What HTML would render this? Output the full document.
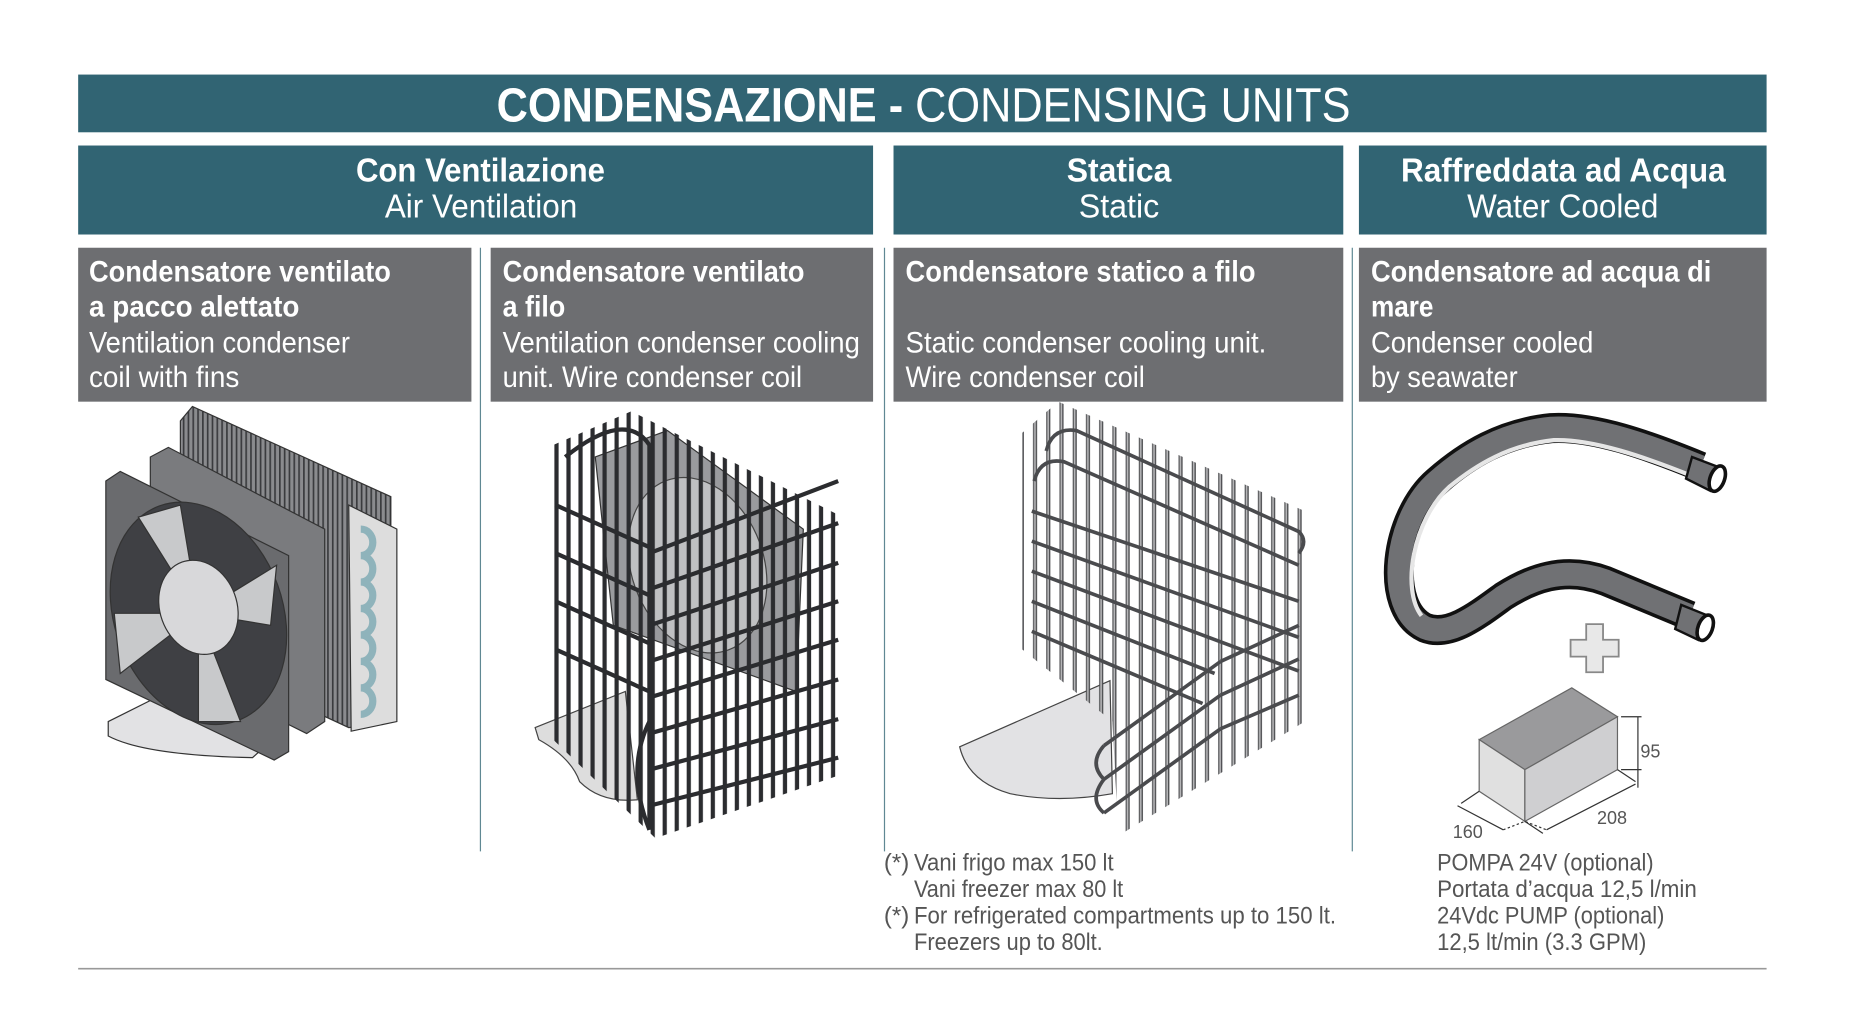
<!DOCTYPE html>
<html><head><meta charset="utf-8"><style>
html,body{margin:0;padding:0;background:#fff;width:1864px;height:1018px;overflow:hidden}
svg{display:block}
.t{font-family:"Liberation Sans Narrow","Liberation Sans",sans-serif;fill:#fff}
.b{font-weight:bold}
.g{font-family:"Liberation Sans Narrow","Liberation Sans",sans-serif;fill:#555}
</style></head><body>
<svg width="1864" height="1018" viewBox="0 0 1550 846.5" xmlns="http://www.w3.org/2000/svg">
<defs>
<pattern id="fins" width="4" height="10" patternUnits="userSpaceOnUse"><rect width="4" height="10" fill="#8a8b8e"/><rect width="1.4" height="10" fill="#3a3b3e"/></pattern>
<pattern id="wire" width="10" height="10" patternUnits="userSpaceOnUse"><rect width="10" height="10" fill="none"/><rect x="1" width="3.5" height="10" fill="#2b2c2f"/></pattern>
<pattern id="wire2" width="11" height="10" patternUnits="userSpaceOnUse"><rect x="1" width="3.4" height="10" fill="#4a4b4e"/><rect x="1.9" width="1.4" height="10" fill="#b5b5b7"/></pattern>
</defs>
<!-- headers -->
<rect x="65" y="62" width="1404" height="48" fill="#316473"/>
<text x="413" y="101" class="t" font-size="40" textLength="710" lengthAdjust="spacingAndGlyphs"><tspan class="b">CONDENSAZIONE - </tspan>CONDENSING UNITS</text>
<rect x="65" y="121" width="661" height="74" fill="#316473"/>
<rect x="743" y="121" width="374" height="74" fill="#316473"/>
<rect x="1130" y="121" width="339" height="74" fill="#316473"/>
<text x="296" y="151" class="t b" font-size="28" textLength="207" lengthAdjust="spacingAndGlyphs">Con Ventilazione</text>
<text x="320" y="181" class="t" font-size="28" textLength="160" lengthAdjust="spacingAndGlyphs">Air Ventilation</text>
<text x="887" y="151" class="t b" font-size="28" textLength="87" lengthAdjust="spacingAndGlyphs">Statica</text>
<text x="897" y="181" class="t" font-size="28" textLength="67" lengthAdjust="spacingAndGlyphs">Static</text>
<text x="1165" y="151" class="t b" font-size="28" textLength="270" lengthAdjust="spacingAndGlyphs">Raffreddata ad Acqua</text>
<text x="1220" y="181" class="t" font-size="28" textLength="159" lengthAdjust="spacingAndGlyphs">Water Cooled</text>
<!-- gray boxes -->
<rect x="65" y="206" width="327" height="128" fill="#6d6e71"/>
<rect x="408" y="206" width="318" height="128" fill="#6d6e71"/>
<rect x="743" y="206" width="374" height="128" fill="#6d6e71"/>
<rect x="1130" y="206" width="339" height="128" fill="#6d6e71"/>
<g class="t" font-size="25">
<text x="74" y="234" class="b" textLength="251" lengthAdjust="spacingAndGlyphs">Condensatore ventilato</text>
<text x="74" y="263" class="b" textLength="175" lengthAdjust="spacingAndGlyphs">a pacco alettato</text>
<text x="74" y="293" textLength="217" lengthAdjust="spacingAndGlyphs">Ventilation condenser</text>
<text x="74" y="322" textLength="125" lengthAdjust="spacingAndGlyphs">coil with fins</text>
<text x="418" y="234" class="b" textLength="251" lengthAdjust="spacingAndGlyphs">Condensatore ventilato</text>
<text x="418" y="263" class="b" textLength="52" lengthAdjust="spacingAndGlyphs">a filo</text>
<text x="418" y="293" textLength="297" lengthAdjust="spacingAndGlyphs">Ventilation condenser cooling</text>
<text x="418" y="322" textLength="249" lengthAdjust="spacingAndGlyphs">unit. Wire condenser coil</text>
<text x="753" y="234" class="b" textLength="291" lengthAdjust="spacingAndGlyphs">Condensatore statico a filo</text>
<text x="753" y="293" textLength="300" lengthAdjust="spacingAndGlyphs">Static condenser cooling unit.</text>
<text x="753" y="322" textLength="199" lengthAdjust="spacingAndGlyphs">Wire condenser coil</text>
<text x="1140" y="234" class="b" textLength="283" lengthAdjust="spacingAndGlyphs">Condensatore ad acqua di</text>
<text x="1140" y="263" class="b" textLength="52" lengthAdjust="spacingAndGlyphs">mare</text>
<text x="1140" y="293" textLength="185" lengthAdjust="spacingAndGlyphs">Condenser cooled</text>
<text x="1140" y="322" textLength="122" lengthAdjust="spacingAndGlyphs">by seawater</text>
</g>
<!-- dividers -->
<g stroke="#5f8893" stroke-width="1">
<line x1="399.5" y1="206" x2="399.5" y2="708"/>
<line x1="735.5" y1="206" x2="735.5" y2="708"/>
<line x1="1124.5" y1="206" x2="1124.5" y2="708"/>
</g>
<line x1="65" y1="805.5" x2="1469" y2="805.5" stroke="#999" stroke-width="1.3"/>
<!-- fan unit -->
<g stroke="#333" stroke-width="1">
<polygon points="150,350 160,338 325,413 325,600 290,605 150,540" fill="url(#fins)"/>
<polygon points="290,420 330,440 330,600 292,608" fill="#ddd"/>
<g fill="none" stroke="#8fb3bb" stroke-width="6">
<path d="M300,440 a10,11 0 0 1 0,22 a10,11 0 0 1 0,22 a10,11 0 0 1 0,22 a10,11 0 0 1 0,22 a10,11 0 0 1 0,22 a10,11 0 0 1 0,22 a10,11 0 0 1 0,22"/>
</g>
<path d="M90,600 L130,580 L230,612 L210,630 Q120,628 90,612 Z" fill="#e2e2e4"/>
<polygon points="125,380 140,372 270,440 270,600 255,610 125,545" fill="#7a7b7e"/>
<polygon points="88,400 100,392 240,462 240,625 228,632 88,565" fill="#6a6b6e"/>
<ellipse cx="165" cy="510" rx="70" ry="95" fill="#3f4044" transform="rotate(-20 165 510)"/>
<path d="M165,510 L115,430 L150,420 Z M165,510 L230,470 L225,520 Z M165,510 L200,600 L165,600 Z M165,510 L100,560 L95,510 Z" fill="#c8c9cb"/>
<ellipse cx="165" cy="505" rx="32" ry="40" fill="#d8d8da" transform="rotate(-20 165 505)"/>
</g>
<!-- wire cage ventilated -->
<path d="M445,605 L520,575 L530,665 Q500,668 482,650 Q475,630 448,615 Z" fill="#ddd" stroke="#444"/>
<polygon points="495,380 555,358 668,440 662,575 510,520" fill="#9a9b9e" stroke="#333"/>
<ellipse cx="580" cy="470" rx="55" ry="75" fill="#bfc0c2" stroke="#444" transform="rotate(-20 580 470)"/>
<polygon points="460,370 525,342 697,428 697,645 545,697 460,615" fill="url(#wire)"/>
<g fill="none" stroke="#2b2c2f" stroke-width="3.5">
<path d="M470,380 Q520,340 540,370 L540,690"/>
<path d="M540,460 L697,400 M540,490 L697,435 M540,520 L697,468 M540,550 L697,500 M540,580 L697,532 M540,610 L697,565 M540,640 L697,598 M540,670 L697,630"/>
<path d="M462,420 L540,455 M462,460 L540,495 M462,500 L540,535 M462,540 L540,575"/>
<path d="M540,600 Q520,640 540,690"/>
</g>
<!-- static cage -->
<path d="M798,621 L923,566 L925,660 Q880,668 840,660 Q805,650 798,621 Z" fill="#e2e2e4" stroke="#444"/>
<polygon points="850,360 880,334 1085,425 1085,600 930,695 925,600 850,540" fill="url(#wire2)"/>
<g fill="none" stroke="#4a4b4e" stroke-width="3">
<path d="M870,375 Q875,355 895,358 L1080,442 Q1088,450 1080,460"/>
<path d="M860,400 Q865,380 885,384 L1080,470"/>
<path d="M858,425 L1080,500 M858,450 L1080,530 M858,475 L1080,558"/>
<path d="M858,500 L1010,560 M858,525 L1000,585"/>
<path d="M918,620 L1015,550 M918,648 L1015,578 M918,676 L1015,606"/>
<path d="M1015,550 L1080,520 M1015,578 L1080,548 M1015,606 L1080,578"/>
<path d="M918,620 Q905,635 918,648 M918,676 Q905,665 918,648"/>
</g>
<!-- pipe -->
<g fill="none" stroke-linecap="butt">
<path d="M1414,388 C1370,370 1325,354 1290,356 C1250,360 1220,378 1195,400 C1160,430 1150,505 1185,522 C1205,530 1228,512 1250,496 C1272,482 1300,470 1335,483 L1405,512" stroke="#111" stroke-width="25"/>
<path d="M1414,388 C1370,370 1325,354 1290,356 C1250,360 1220,378 1195,400 C1160,430 1150,505 1185,522 C1205,530 1228,512 1250,496 C1272,482 1300,470 1335,483 L1405,512" stroke="#707174" stroke-width="19"/>
<path d="M1410,397 C1368,380 1325,365 1292,366 C1255,370 1228,386 1205,405 C1175,432 1165,490 1182,512" stroke="#e6e6e6" stroke-width="3.5"/>
</g>
<polygon points="1407,380 1428,388 1422,408 1402,398" fill="#707174" stroke="#111" stroke-width="2"/>
<ellipse cx="1428" cy="398" rx="6" ry="11" fill="#fff" stroke="#111" stroke-width="3" transform="rotate(20 1428 398)"/>
<polygon points="1398,503 1418,511 1412,532 1393,523" fill="#707174" stroke="#111" stroke-width="2"/>
<ellipse cx="1418" cy="522" rx="6" ry="11" fill="#fff" stroke="#111" stroke-width="3" transform="rotate(20 1418 522)"/>
<!-- plus -->
<path d="M1319,519 h14 v13 h13 v14 h-13 v13 h-14 v-13 h-13 v-14 h13 z" fill="#e8e8e8" stroke="#888" stroke-width="1.5"/>
<!-- box -->
<polygon points="1230,615 1307,572 1345,596 1268,640" fill="#9a9a9c" stroke="#666"/>
<polygon points="1230,615 1268,640 1268,683 1230,658" fill="#e0e0e0" stroke="#666"/>
<polygon points="1268,640 1345,596 1345,640 1268,683" fill="#cfcfd1" stroke="#666"/>
<g stroke="#333" stroke-width="1" fill="none">
<line x1="1362" y1="596" x2="1362" y2="655"/><line x1="1348" y1="596" x2="1365" y2="596"/><line x1="1348" y1="640" x2="1365" y2="640"/>
<line x1="1230" y1="658" x2="1215" y2="668"/><line x1="1268" y1="683" x2="1283" y2="693"/><line x1="1345" y1="640" x2="1360" y2="650"/>
<path d="M1212,670 L1250,690 M1286,690 L1360,652" />
<path d="M1250,690 L1268,683 L1286,690" stroke-dasharray="2,2"/>
</g>
<g class="g" font-size="15" fill="#888"><text x="1364" y="630">95</text><text x="1208" y="697">160</text><text x="1328" y="685">208</text></g>
<!-- notes -->
<g class="g" font-size="20">
<text x="735" y="724">(*)</text><text x="760" y="724" textLength="166" lengthAdjust="spacingAndGlyphs">Vani frigo max 150 lt</text>
<text x="760" y="746" textLength="174" lengthAdjust="spacingAndGlyphs">Vani freezer max 80 lt</text>
<text x="735" y="768">(*)</text><text x="760" y="768" textLength="351" lengthAdjust="spacingAndGlyphs">For refrigerated compartments up to 150 lt.</text>
<text x="760" y="790" textLength="157" lengthAdjust="spacingAndGlyphs">Freezers up to 80lt.</text>
<text x="1195" y="724" textLength="180" lengthAdjust="spacingAndGlyphs">POMPA 24V (optional)</text>
<text x="1195" y="746" textLength="216" lengthAdjust="spacingAndGlyphs">Portata d’acqua 12,5 l/min</text>
<text x="1195" y="768" textLength="189" lengthAdjust="spacingAndGlyphs">24Vdc PUMP (optional)</text>
<text x="1195" y="790" textLength="174" lengthAdjust="spacingAndGlyphs">12,5 lt/min (3.3 GPM)</text>
</g>
</svg>
</body></html>
